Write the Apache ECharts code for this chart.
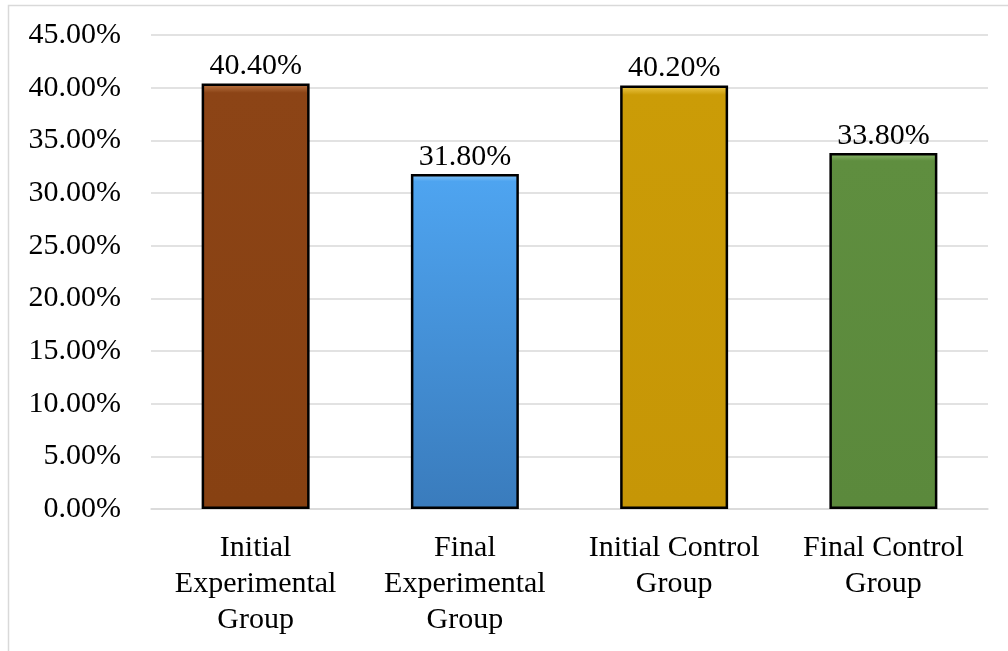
<!DOCTYPE html>
<html>
<head>
<meta charset="utf-8">
<script src="https://cdn.jsdelivr.net/npm/echarts@6/dist/echarts.min.js"></script>
<style>
  html, body { margin: 0; padding: 0; background: #fff; }
  #chart { width: 1008px; height: 651px; }
</style>
</head>
<body>
<div id="chart"></div>
<script>
// Categories and percentage values
const categories = [
  'Initial\nExperimental\nGroup',
  'Final\nExperimental\nGroup',
  'Initial Control\nGroup',
  'Final Control\nGroup'
];
const values = [40.4, 31.8, 40.2, 33.8];

// Bar fill colours (top, bottom, bevel highlight) per category
const barTop = ['#8c4416', '#4ea4f0', '#cb9c07', '#5f8e3f'];
const barBottom = ['#874112', '#3a7cbd', '#c69606', '#5b893c'];
const barEdge = ['#c07a48', '#8cc8f8', '#f0cc50', '#90bc70'];

const yMin = 0, yMax = 45, yStep = 5;

function fillFor(i) {
  return new echarts.graphic.LinearGradient(0, 0, 0, 1, [
    { offset: 0, color: barEdge[i] },
    { offset: 0.022, color: barTop[i] },
    { offset: 0.985, color: barBottom[i] },
    { offset: 1, color: barBottom[i] }
  ]);
}

const font = '"Liberation Serif", "Times New Roman", serif';

const chart = echarts.init(document.getElementById('chart'));
chart.setOption({
  animation: false,
  backgroundColor: '#fff',
  graphic: [{
    type: 'rect',
    shape: { x: 8.5, y: 5.5, width: 1010, height: 700 },
    style: { fill: 'none', stroke: '#d9d9d9', lineWidth: 1.5 },
    silent: true,
    z: -1
  }],
  grid: { left: 151, right: 20, top: 35, bottom: 142 },
  xAxis: {
    type: 'category',
    data: categories,
    axisTick: { show: false },
    axisLine: { show: true, lineStyle: { color: '#d9d9d9', width: 1.5 } },
    axisLabel: {
      interval: 0,
      margin: 21,
      color: '#000',
      fontFamily: font,
      fontSize: 30,
      lineHeight: 36
    }
  },
  yAxis: {
    type: 'value',
    min: yMin,
    max: yMax,
    interval: yStep,
    axisLine: { show: false },
    axisTick: { show: false },
    splitLine: { lineStyle: { color: '#d9d9d9', width: 1.5 } },
    axisLabel: {
      margin: 30,
      color: '#000',
      fontFamily: font,
      fontSize: 30,
      formatter: v => v.toFixed(2) + '%'
    }
  },
  series: [{
    type: 'bar',
    barWidth: '51.6%',
    data: values.map((v, i) => ({
      value: v,
      itemStyle: { color: fillFor(i), borderColor: '#000', borderWidth: 2.5 }
    })),
    label: {
      show: true,
      position: 'top',
      distance: 2,
      color: '#000',
      fontFamily: font,
      fontSize: 30,
      formatter: p => p.value.toFixed(2) + '%'
    }
  }]
});
</script>
</body>
</html>
